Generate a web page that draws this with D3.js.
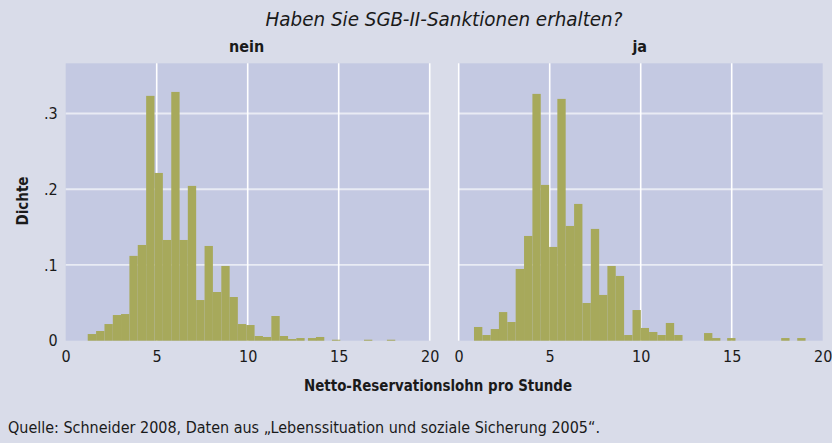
<!DOCTYPE html>
<html><head><meta charset="utf-8">
<script src="https://cdn.jsdelivr.net/npm/d3@7"></script>
<style>
html,body{margin:0;padding:0;background:#d9dce9;}
svg{display:block;}
text{font-family:"DejaVu Sans Condensed","Liberation Sans Narrow",sans-serif;fill:#1a1a1a;}
</style></head>
<body><svg id="c" width="832" height="443"></svg>
<script>
// ---- data ----
const title = "Haben Sie SGB-II-Sanktionen erhalten?";
const panels = ["nein", "ja"];
const binWidth = 0.458;
// left panel (nein): bin start and density
const neinStarts = [1.21,1.67,2.13,2.59,3.04,3.50,3.96,4.42,4.88,5.34,5.80,6.25,6.71,7.17,7.63,8.09,8.55,9.00,9.46,9.92,10.38,10.84,11.30,11.76,12.21,12.67,13.31,13.75,14.63,16.39,17.65];
const neinDens   = [0.0088,0.0128,0.0220,0.0339,0.0352,0.112,0.1264,0.3233,0.2215,0.133,0.3285,0.133,0.2044,0.0537,0.1251,0.0643,0.0987,0.0577,0.0220,0.0207,0.0062,0.0049,0.0326,0.0062,0.0022,0.0035,0.0035,0.0049,0.0013,0.0013,0.0013];
// right panel (ja)
const jaStarts = [0.84,1.30,1.76,2.21,2.67,3.13,3.59,4.05,4.51,4.97,5.42,5.88,6.34,6.80,7.26,7.71,8.17,8.63,9.09,9.55,10.00,10.46,10.92,11.38,11.84,13.48,13.92,14.75,17.72,18.60];
const jaDens   = [0.0181,0.0075,0.0154,0.0378,0.0247,0.0947,0.1383,0.3259,0.2057,0.1238,0.3193,0.1515,0.1806,0.0498,0.1476,0.0604,0.0987,0.0855,0.0075,0.0405,0.0168,0.0115,0.0075,0.0234,0.0075,0.0101,0.0035,0.0035,0.0035,0.0035];
const xTicks = [0,5,10,15,20];
const yTicks = [0,0.1,0.2,0.3];
const yTickLabels = ["0",".1",".2",".3"];
const xTitle = "Netto-Reservationslohn pro Stunde";
const yTitle = "Dichte";
const source = "Quelle: Schneider 2008, Daten aus \u201ELebenssituation und soziale Sicherung 2005\u201C.";

// ---- drawing ----
const svg = d3.select("#c");
const plotTop = 63.3, plotBottom = 340.7;
const panelX = [[65.7, 429.7], [458.7, 822.7]];
const y = d3.scaleLinear().domain([0, 0.3663]).range([plotBottom, plotTop]);
const datasets = [
  neinStarts.map((s,i)=>({x0:s, d:neinDens[i]})),
  jaStarts.map((s,i)=>({x0:s, d:jaDens[i]}))
];
const FONT = "DejaVu Sans Condensed, Liberation Sans Narrow, sans-serif";

svg.append("text").attr("x", 444).attr("y", 26).attr("text-anchor","middle")
  .attr("font-size", 19).attr("font-style","italic")
  .attr("textLength", 357).attr("lengthAdjust","spacingAndGlyphs").text(title);

panels.forEach((name, p) => {
  const x = d3.scaleLinear().domain([0,20]).range(panelX[p]);
  const g = svg.append("g");
  g.append("rect").attr("x", panelX[p][0]).attr("y", plotTop)
    .attr("width", panelX[p][1]-panelX[p][0]).attr("height", plotBottom-plotTop)
    .attr("fill", "#c4c9e2");
  // horizontal grid
  g.selectAll(".hg").data(yTicks.filter(t=>t>0)).enter().append("line")
    .attr("x1", panelX[p][0]).attr("x2", panelX[p][1])
    .attr("y1", d=>y(d)).attr("y2", d=>y(d))
    .attr("stroke", "#e9ebf4").attr("stroke-width", 1.8);
  // vertical grid (outer edge lines hidden as in the reference)
  const vt = p === 0 ? xTicks.filter(t=>t>0) : xTicks.filter(t=>t<20);
  g.selectAll(".vg").data(vt).enter().append("line")
    .attr("x1", d=>x(d)).attr("x2", d=>x(d))
    .attr("y1", plotTop).attr("y2", plotBottom)
    .attr("stroke", "#ffffff").attr("stroke-width", 1.6);
  // bars
  g.selectAll(".bar").data(datasets[p]).enter().append("rect")
    .attr("x", d=>x(d.x0)).attr("width", d=>x(d.x0+binWidth)-x(d.x0))
    .attr("y", d=>y(d.d)).attr("height", d=>y(0)-y(d.d))
    .attr("fill", "#a7a95b");
  // panel title
  svg.append("text").attr("x", (panelX[p][0]+panelX[p][1])/2 - 1).attr("y", 52)
    .attr("text-anchor","middle").attr("font-size", 16).attr("font-weight","bold").text(name);
  // x axis
  const xa = svg.append("g").attr("transform", `translate(0,${plotBottom+2})`)
    .call(d3.axisBottom(x).tickValues(xTicks).tickSize(0).tickPadding(8).tickFormat(d3.format("d")));
  xa.select(".domain").remove();
  xa.selectAll("text").attr("font-size", 16).attr("fill","#1a1a1a").attr("font-family", FONT);
});

// y axis
const ya = svg.append("g").attr("transform", `translate(${panelX[0][0]-8},0)`)
  .call(d3.axisLeft(y).tickValues(yTicks).tickSize(0).tickPadding(0).tickFormat((d,i)=>yTickLabels[i]));
ya.select(".domain").remove();
ya.selectAll("text").attr("font-size", 16).attr("fill","#1a1a1a").attr("font-family", FONT);

svg.append("text").attr("transform","translate(28,201) rotate(-90)").attr("text-anchor","middle")
  .attr("font-size", 15).attr("font-weight","bold").text(yTitle);
svg.append("text").attr("x", 438).attr("y", 391).attr("text-anchor","middle")
  .attr("font-size", 16).attr("font-weight","bold")
  .attr("textLength", 268).attr("lengthAdjust","spacingAndGlyphs").text(xTitle);
svg.append("text").attr("x", 8).attr("y", 433).attr("font-size", 16)
  .attr("textLength", 592).attr("lengthAdjust","spacingAndGlyphs").text(source);
</script></body></html>
